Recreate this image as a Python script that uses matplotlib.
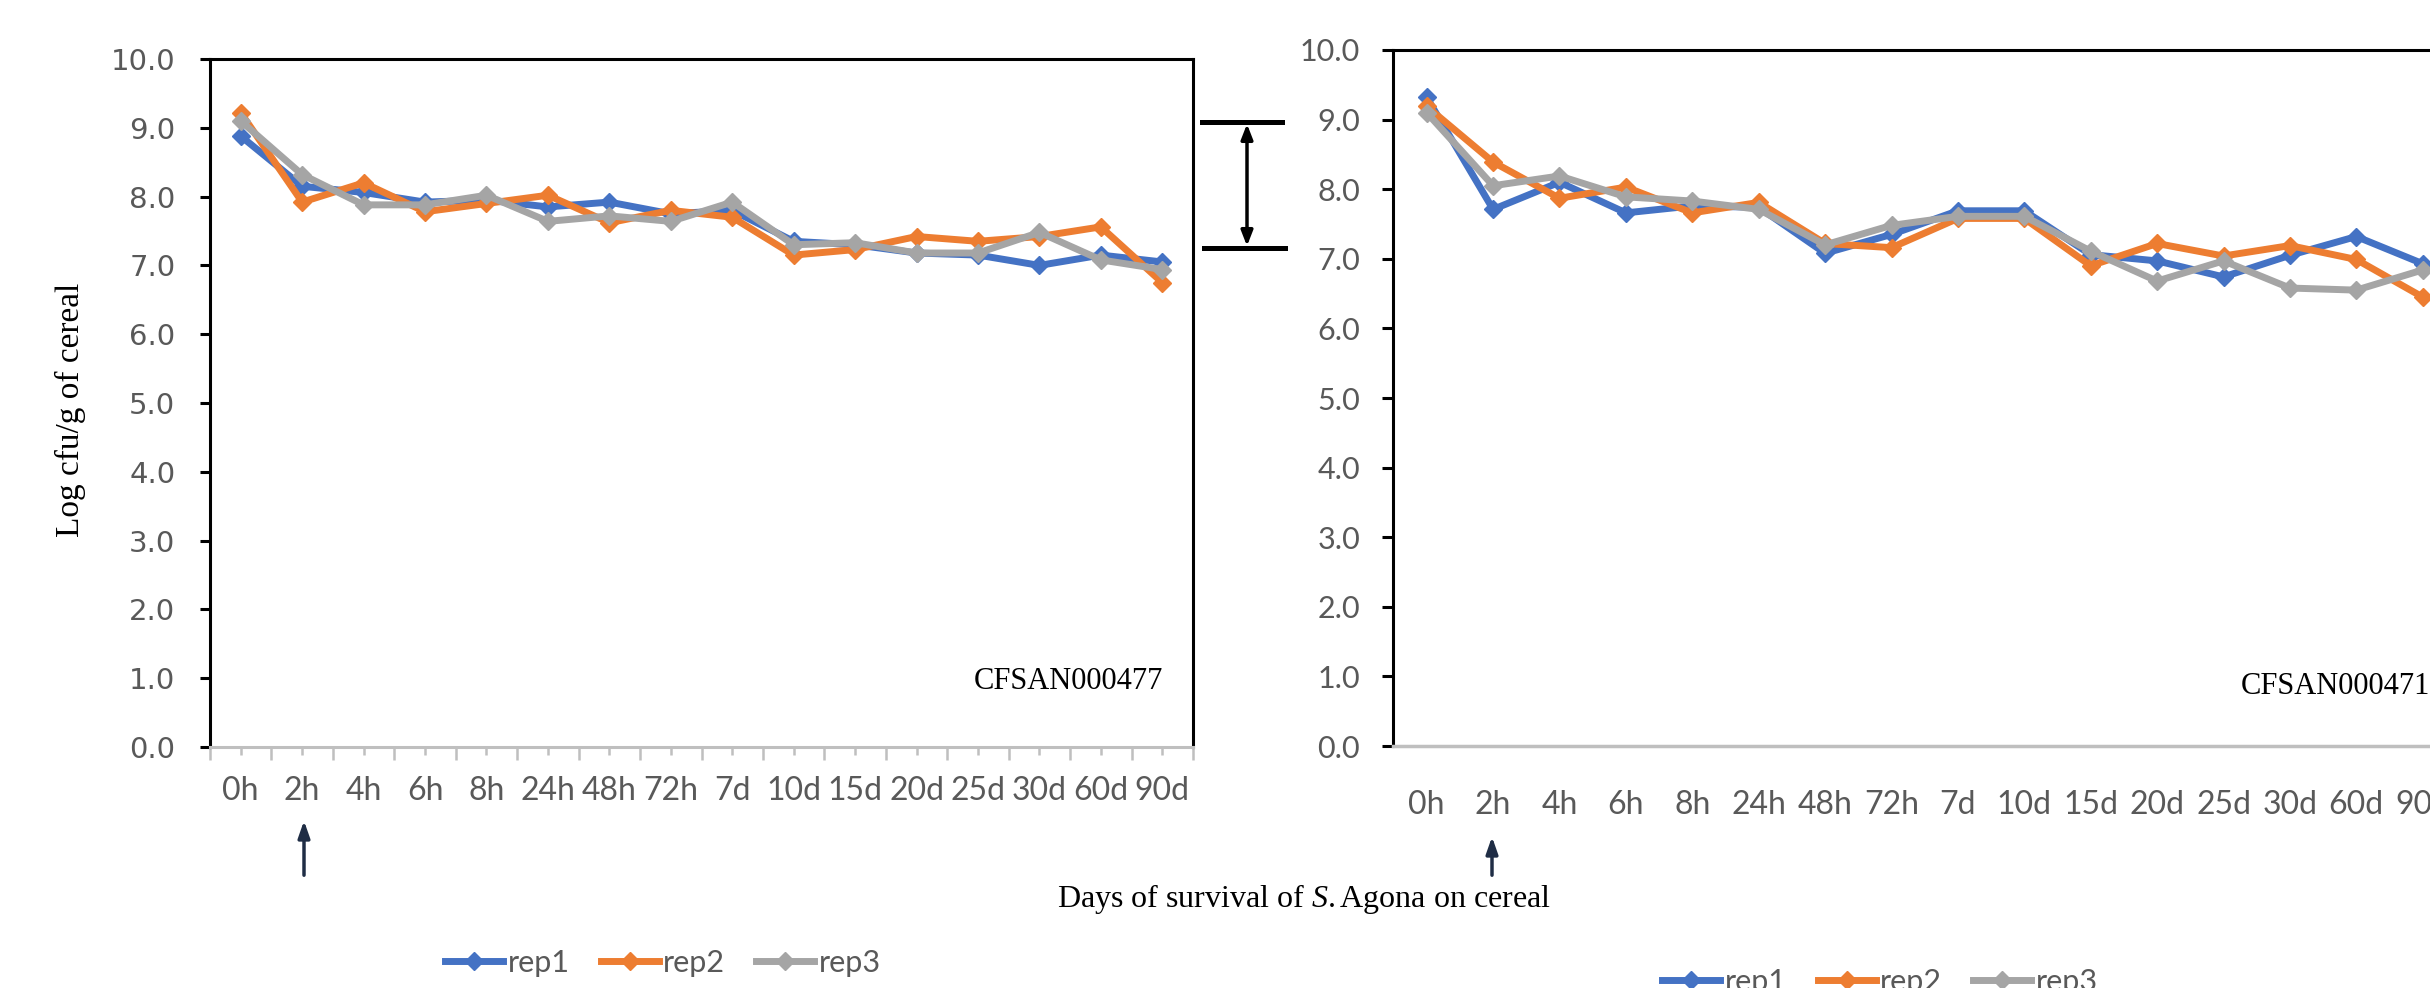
import matplotlib
matplotlib.use("Agg")
import matplotlib.pyplot as plt
from matplotlib.lines import Line2D
import numpy as np

W, H = 2430, 988

days = ["0h", "2h", "4h", "6h", "8h", "24h", "48h", "72h", "7d", "10d",
        "15d", "20d", "25d", "30d", "60d", "90d"]

# CFSAN000477
left_rep1 = [8.88, 8.15, 8.06, 7.92, 7.95, 7.85, 7.92, 7.75, 7.8, 7.35,
             7.3, 7.18, 7.15, 7.0, 7.15, 7.05]
left_rep2 = [9.22, 7.92, 8.2, 7.78, 7.9, 8.02, 7.62, 7.8, 7.7, 7.15,
             7.23, 7.42, 7.35, 7.42, 7.56, 6.75]
left_rep3 = [9.1, 8.32, 7.88, 7.88, 8.02, 7.64, 7.72, 7.64, 7.92, 7.3,
             7.33, 7.18, 7.18, 7.48, 7.08, 6.94]

# CFSAN000471
right_rep1 = [9.32, 7.71, 8.1, 7.66, 7.76, 7.74, 7.08, 7.35, 7.69, 7.69,
              7.06, 6.97, 6.74, 7.05, 7.32, 6.93]
right_rep2 = [9.19, 8.39, 7.87, 8.03, 7.66, 7.81, 7.22, 7.16, 7.58, 7.58,
              6.9, 7.22, 7.04, 7.19, 6.99, 6.45]
right_rep3 = [9.1, 8.05, 8.19, 7.89, 7.83, 7.71, 7.2, 7.48, 7.61, 7.61,
              7.11, 6.68, 6.97, 6.58, 6.55, 6.84]

rep_names = ["rep1", "rep2", "rep3"]
colors = ["#4472C4", "#ED7D31", "#A5A5A5"]
text_grey = "#595959"
axis_grey = "#BFBFBF"

plt.rcParams["mathtext.fontset"] = "custom"
plt.rcParams["mathtext.rm"] = "Liberation Serif"
plt.rcParams["mathtext.it"] = "Liberation Serif:italic"

fig = plt.figure(figsize=(W / 100, H / 100), dpi=100)


def px_box(x0, y_top, x1, y_bot):
    return [x0 / W, 1 - y_bot / H, (x1 - x0) / W, (y_bot - y_top) / H]


def draw_lines(ax, series):
    x = np.arange(len(days))
    for vals, c, name in zip(series, colors, rep_names):
        ax.plot(x, vals, color=c, lw=5, marker="D", ms=9, label=name,
                solid_joinstyle="round")
    ax.set_xlim(-0.5, len(days) - 0.5)
    ax.set_ylim(0, 10)
    ax.set_yticks(np.arange(0, 11, 1))
    ax.set_yticklabels([f"{v:.1f}" for v in range(11)])


ax1 = fig.add_axes(px_box(210, 59, 1193, 747))
draw_lines(ax1, [left_rep1, left_rep2, left_rep3])
for s in ["top", "left", "right"]:
    ax1.spines[s].set_linewidth(2.2)
    ax1.spines[s].set_color("black")
ax1.spines["bottom"].set_color(axis_grey)
ax1.spines["bottom"].set_linewidth(2.2)
ax1.set_xticks(np.arange(len(days)))
ax1.set_xticklabels(days, fontfamily="Lato", fontsize=23, color=text_grey)
ax1.set_xticks(np.arange(-0.5, len(days)), minor=True)
ax1.tick_params(axis="x", which="major", length=6, width=1.8, color=axis_grey, pad=15)
ax1.tick_params(axis="x", which="minor", length=9, width=1.8, color=axis_grey)
ax1.tick_params(axis="y", length=7, width=2.2, color="black", pad=18)
for t in ax1.get_yticklabels():
    t.set_fontfamily("DejaVu Sans")
    t.set_fontsize(21)
    t.set_color(text_grey)
ax1.text(0.97, 0.095, "CFSAN000477", transform=ax1.transAxes, ha="right",
         va="center", fontfamily="Liberation Serif", fontsize=22)

ax2 = fig.add_axes(px_box(1393.5, 50, 1393.5 + 16 * 66.4, 746))
draw_lines(ax2, [right_rep1, right_rep2, right_rep3])
ax2.spines["right"].set_visible(False)
ax2.spines["top"].set_linewidth(2.2)
ax2.spines["left"].set_linewidth(2.2)
ax2.spines["bottom"].set_color(axis_grey)
ax2.spines["bottom"].set_linewidth(2.5)
ax2.set_xticks(np.arange(len(days)))
ax2.set_xticklabels(days, fontfamily="Lato", fontsize=23, color=text_grey)
ax2.tick_params(axis="x", length=0, pad=32)
ax2.tick_params(axis="y", length=8, width=2.2, color="black", pad=16)
for t in ax2.get_yticklabels():
    t.set_fontfamily("Lato")
    t.set_fontsize(22)
    t.set_color(text_grey)
ax2.text(0.976, 0.085, "CFSAN000471", transform=ax2.transAxes, ha="right",
         va="center", fontfamily="Liberation Serif", fontsize=22, clip_on=False)

# axis titles
fig.text(70 / W, 1 - 410 / H, "Log cfu/g of cereal", rotation=90, ha="center",
         va="center", fontfamily="Liberation Serif", fontsize=24)
fig.text(1304 / W, 1 - 899 / H, r"Days of survival of $\it{S.}$Agona on cereal",
         ha="center", va="center", fontfamily="Liberation Serif", fontsize=23)

# legends
handles = [Line2D([], [], color=c, lw=5, marker="D", ms=9) for c in colors]
for cx, cy in [(663, 963), (1880, 982)]:
    leg = fig.legend(handles, rep_names, loc="center",
                     bbox_to_anchor=(cx / W, 1 - cy / H), ncol=3, frameon=False,
                     handlelength=1.9, handletextpad=0.15, columnspacing=1.0,
                     prop={"family": "Lato", "size": 22})
    for t in leg.get_texts():
        t.set_color(text_grey)

# arrows under the 2h labels
for ax_x, tip in [(304, 818), (1492, 834)]:
    fig.add_artist(plt.Annotation(
        "", xy=(ax_x / W, 1 - tip / H), xytext=(ax_x / W, 1 - 878 / H),
        xycoords="figure fraction", textcoords="figure fraction",
        arrowprops=dict(arrowstyle="-|>,head_width=0.35,head_length=1.0",
                        color="#1F2D45", lw=2.5)))

# bracket between the panels
for x0, x1, y in [(1202, 1282, 122), (1204, 1285, 248)]:
    fig.add_artist(Line2D([x0 / W, x1 / W], [1 - y / H, 1 - y / H], color="black",
                          lw=3.6, transform=fig.transFigure))
fig.add_artist(plt.Annotation(
    "", xy=(1247 / W, 1 - 124 / H), xytext=(1247 / W, 1 - 246 / H),
    xycoords="figure fraction", textcoords="figure fraction",
    arrowprops=dict(arrowstyle="<|-|>,head_width=0.35,head_length=0.9",
                    color="black", lw=2.5, shrinkA=0, shrinkB=0)))

fig.savefig("out.png", dpi=100)
